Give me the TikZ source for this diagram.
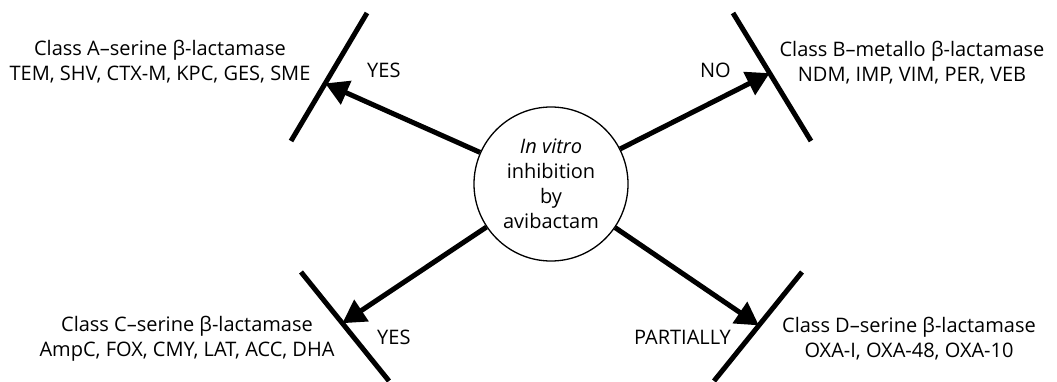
\documentclass[tikz,border=0pt]{standalone}
\usepackage{fontspec}
\setmainfont{Open Sans}
\usepackage{tikz}
\usetikzlibrary{arrows.meta,calc,positioning}
\tikzset{>/.tip={Triangle[length=23pt,width=25pt]}}
\tikzset{bar/.style={line width=5pt}}
\tikzset{cls/.style={align=center,inner sep=0pt}}
\tikzset{ans/.style={inner sep=0pt}}

\begin{document}
\begin{tikzpicture}[x=1pt,y=1pt,font=\fontsize{20}{25}\selectfont]
        \useasboundingbox (0,0) rectangle (1057,381);
        \node(avi)[circle,draw,line width=1.3pt,minimum size=154pt,inner sep=0pt,align=center]
          at (551,197) {\textit{In vitro}\\inhibition\\by\\avibactam};
        % the four bars
        \coordinate(a1) at (367,368); \coordinate(a2) at (291,240);
        \coordinate(b1) at (733,368); \coordinate(b2) at (811,240);
        \coordinate(c1) at (301,109); \coordinate(c2) at (389,0);
        \coordinate(d1) at (802,109); \coordinate(d2) at (714,0);
        \draw[bar] (a1) -- (a2) (b1) -- (b2) (c1) -- (c2) (d1) -- (d2);
        \coordinate(ta) at ($(a1)!0.55!(a2)$);
        \coordinate(tb) at ($(b1)!0.47!(b2)$);
        \coordinate(tc) at ($(c1)!0.47!(c2)$);
        \coordinate(td) at ($(d1)!0.49!(d2)$);
        \draw[->,line width=5pt]
        (avi) edge (ta)
        (avi) edge (tb)
        (avi) edge (tc)
        (avi) edge (td);
        % answers
        \node(yesA)[ans,anchor=west] at (367,311) {YES};
        \node(no)[ans,anchor=east] at (731,311) {NO};
        \node(yesC)[ans,anchor=west] at (377,44) {YES};
        \node(part)[ans,anchor=east] at (731,44) {PARTIALLY};
        % classes
        \node(clA)[cls] at (160,319) {Class A–serine β-lactamase\\TEM, SHV, CTX-M, KPC, GES, SME};
        \node(clB)[cls] at (912,318) {Class B–metallo β-lactamase\\NDM, IMP, VIM, PER, VEB};
        \node(clC)[cls] at (187,42) {Class C–serine β-lactamase\\AmpC, FOX, CMY, LAT, ACC, DHA};
        \node(clD)[cls] at (909,42) {Class D–serine β-lactamase\\OXA-I, OXA-48, OXA-10};
      \end{tikzpicture}
\end{document}
